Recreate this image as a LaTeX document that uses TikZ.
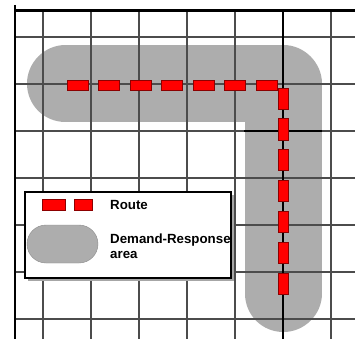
\documentclass[tikz,border=0pt]{standalone}
\usepackage{fontspec}
\setmainfont{Liberation Sans}
\colorlet{areagray}{black!32}
\begin{document}
\begin{tikzpicture}[x=1pt,y=-1pt,
    gridline/.style={black!70,line width=1.3pt},
    routedash/.style={fill=red,draw=red!55!black,line width=0.6pt},
    legtext/.style={anchor=west,inner sep=0pt,font=\bfseries\fontsize{13.3}{15}\selectfont,align=left}]
    \useasboundingbox (0,0) rectangle (355,339);
    \fill[white] (0,0) rectangle (355,339);

    % demand-response area
    \draw[areagray,line width=77pt,line cap=round,line join=round]
    (65.5,84) -- (283,84) -- (283,293.5);

    % street grid
    \foreach \gx in {43,91,139,187,235,331}
        \draw[gridline] (\gx,11) -- (\gx,339);
    \foreach \gy in {37,84,131,178,225,272,319}
        \draw[gridline] (15,\gy) -- (355,\gy);
    \draw[black,line width=2.5pt] (283,11) -- (283,339);
    \draw[black,line width=2.5pt] (244,131) -- (322,131);
    \draw[black,line width=3pt] (15,11) -- (355,11);
    \draw[black,line width=1.5pt] (15,5) -- (15,339);

    % legend
    \fill[black!35] (28,195) rectangle (234,281);
    \draw[fill=white,line width=1.3pt] (25,192) rectangle (231,278);
    \draw[routedash] (42,199) rectangle (65,210);
    \draw[routedash] (74,199) rectangle (92,210);
    \draw[fill=areagray,draw=black!45,rounded corners=19pt] (27,225) rectangle (98,263);
    \node[legtext] (legroute) at (110,205) {Route};
    \node[legtext] (legarea) at (110,246) {Demand-Response\\area};

    % route
    \foreach \rx in {0,...,6}
        \draw[routedash] ({67+31.5*\rx},80) rectangle ({88+31.5*\rx},90);
    \foreach \ry in {0,...,6}
        \draw[routedash] (278,{88+30.8*\ry}) rectangle (288,{109+30.8*\ry});
\end{tikzpicture}
\end{document}
